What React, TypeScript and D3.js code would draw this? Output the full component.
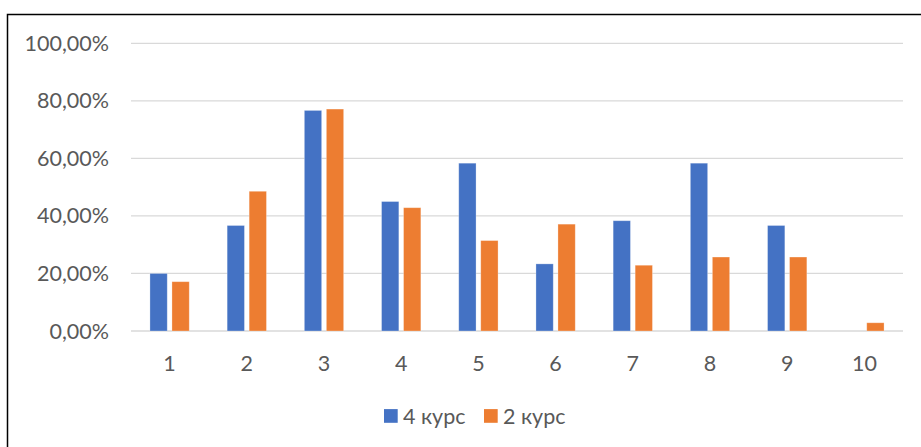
import * as d3 from "d3";
import { useEffect, useRef } from "react";

// Values (fractions)
const categories = ["1", "2", "3", "4", "5", "6", "7", "8", "9", "10"];
const seriesNames = ["4 курс", "2 курс"];
const course4 = [0.2, 0.3667, 0.7667, 0.45, 0.5833, 0.2333, 0.3833, 0.5833, 0.3667, 0];
const course2 = [0.1714, 0.4857, 0.7714, 0.4286, 0.3143, 0.3714, 0.2286, 0.2571, 0.2571, 0.0286];
const yTicks = [0, 0.2, 0.4, 0.6, 0.8, 1.0];
const colors = ["#4472C4", "#ED7D31"];

const W = 921;
const H = 447;
const FONT = "Lato, 'Open Sans', sans-serif";
const FS = 21.5;

export default function App() {
    const ref = useRef<SVGSVGElement>(null);

    useEffect(() => {
        const svg = d3.select(ref.current);
        svg.selectAll("*").remove();

        const margin = { top: 43.3, right: 18, bottom: 116, left: 131 };

        // outer frame
        svg.append("rect")
            .attr("x", 7.5)
            .attr("y", 14.5)
            .attr("width", W + 20)
            .attr("height", H + 20)
            .attr("fill", "white")
            .attr("stroke", "#000")
            .attr("stroke-width", 1.5);

        const x = d3.scaleBand()
            .domain(categories)
            .range([margin.left, W - margin.right])
            .padding(0);

        const inner = d3.scaleBand()
            .domain(seriesNames)
            .range([x.bandwidth() / 2 - 19.65, x.bandwidth() / 2 + 19.65])
            .paddingInner(0.214)
            .paddingOuter(0);

        const y = d3.scaleLinear()
            .domain([0, 1])
            .range([331, margin.top]);

        const fmt = (v: number) => (v * 100).toFixed(2).replace(".", ",") + "%";

        // gridlines
        svg.append("g")
            .selectAll("line")
            .data(yTicks)
            .join("line")
            .attr("x1", margin.left)
            .attr("x2", W - margin.right)
            .attr("y1", d => y(d))
            .attr("y2", d => y(d))
            .attr("stroke", "#d9d9d9")
            .attr("stroke-width", 1.3);

        // y labels
        svg.append("g")
            .selectAll("text")
            .data(yTicks)
            .join("text")
            .attr("x", 109)
            .attr("y", d => y(d))
            .attr("dy", "0.35em")
            .attr("text-anchor", "end")
            .attr("fill", "#595959")
            .attr("font-family", FONT)
            .attr("font-size", FS)
            .text(d => fmt(d));

        // bars
        const data = categories.map((c, i) => ({ cat: c, values: [course4[i], course2[i]] }));
        const groups = svg.append("g")
            .selectAll("g")
            .data(data)
            .join("g")
            .attr("transform", d => `translate(${x(d.cat)},0)`);

        groups.selectAll("rect")
            .data(d => d.values.map((v, j) => ({ name: seriesNames[j], v, j })))
            .join("rect")
            .attr("x", d => inner(d.name)!)
            .attr("width", inner.bandwidth())
            .attr("y", d => y(d.v))
            .attr("height", d => y(0) - y(d.v))
            .attr("fill", d => colors[d.j])
            .attr("stroke", "rgba(255,255,255,0.35)")
            .attr("stroke-width", 0.8);

        // x labels
        svg.append("g")
            .selectAll("text")
            .data(categories)
            .join("text")
            .attr("x", d => x(d)! + x.bandwidth() / 2)
            .attr("y", 363)
            .attr("dy", "0.35em")
            .attr("text-anchor", "middle")
            .attr("fill", "#595959")
            .attr("font-family", FONT)
            .attr("font-size", FS)
            .text(d => d);

        // legend
        const legendX = [384, 484];
        const legend = svg.append("g")
            .selectAll("g")
            .data(seriesNames)
            .join("g")
            .attr("transform", (_, i) => `translate(${legendX[i]},416)`);

        legend.append("rect")
            .attr("x", 0)
            .attr("y", -6.9)
            .attr("width", 13.7)
            .attr("height", 13.7)
            .attr("fill", (_, i) => colors[i]);

        legend.append("text")
            .attr("x", 19)
            .attr("y", 0)
            .attr("dy", "0.35em")
            .attr("fill", "#595959")
            .attr("font-family", FONT)
            .attr("font-size", FS)
            .text(d => d);
    }, []);

    return (
        <svg
            ref={ref}
            width={W}
            height={H}
            style={{ position: "absolute", left: 0, top: 0, background: "white" }}
        />
    );
}
